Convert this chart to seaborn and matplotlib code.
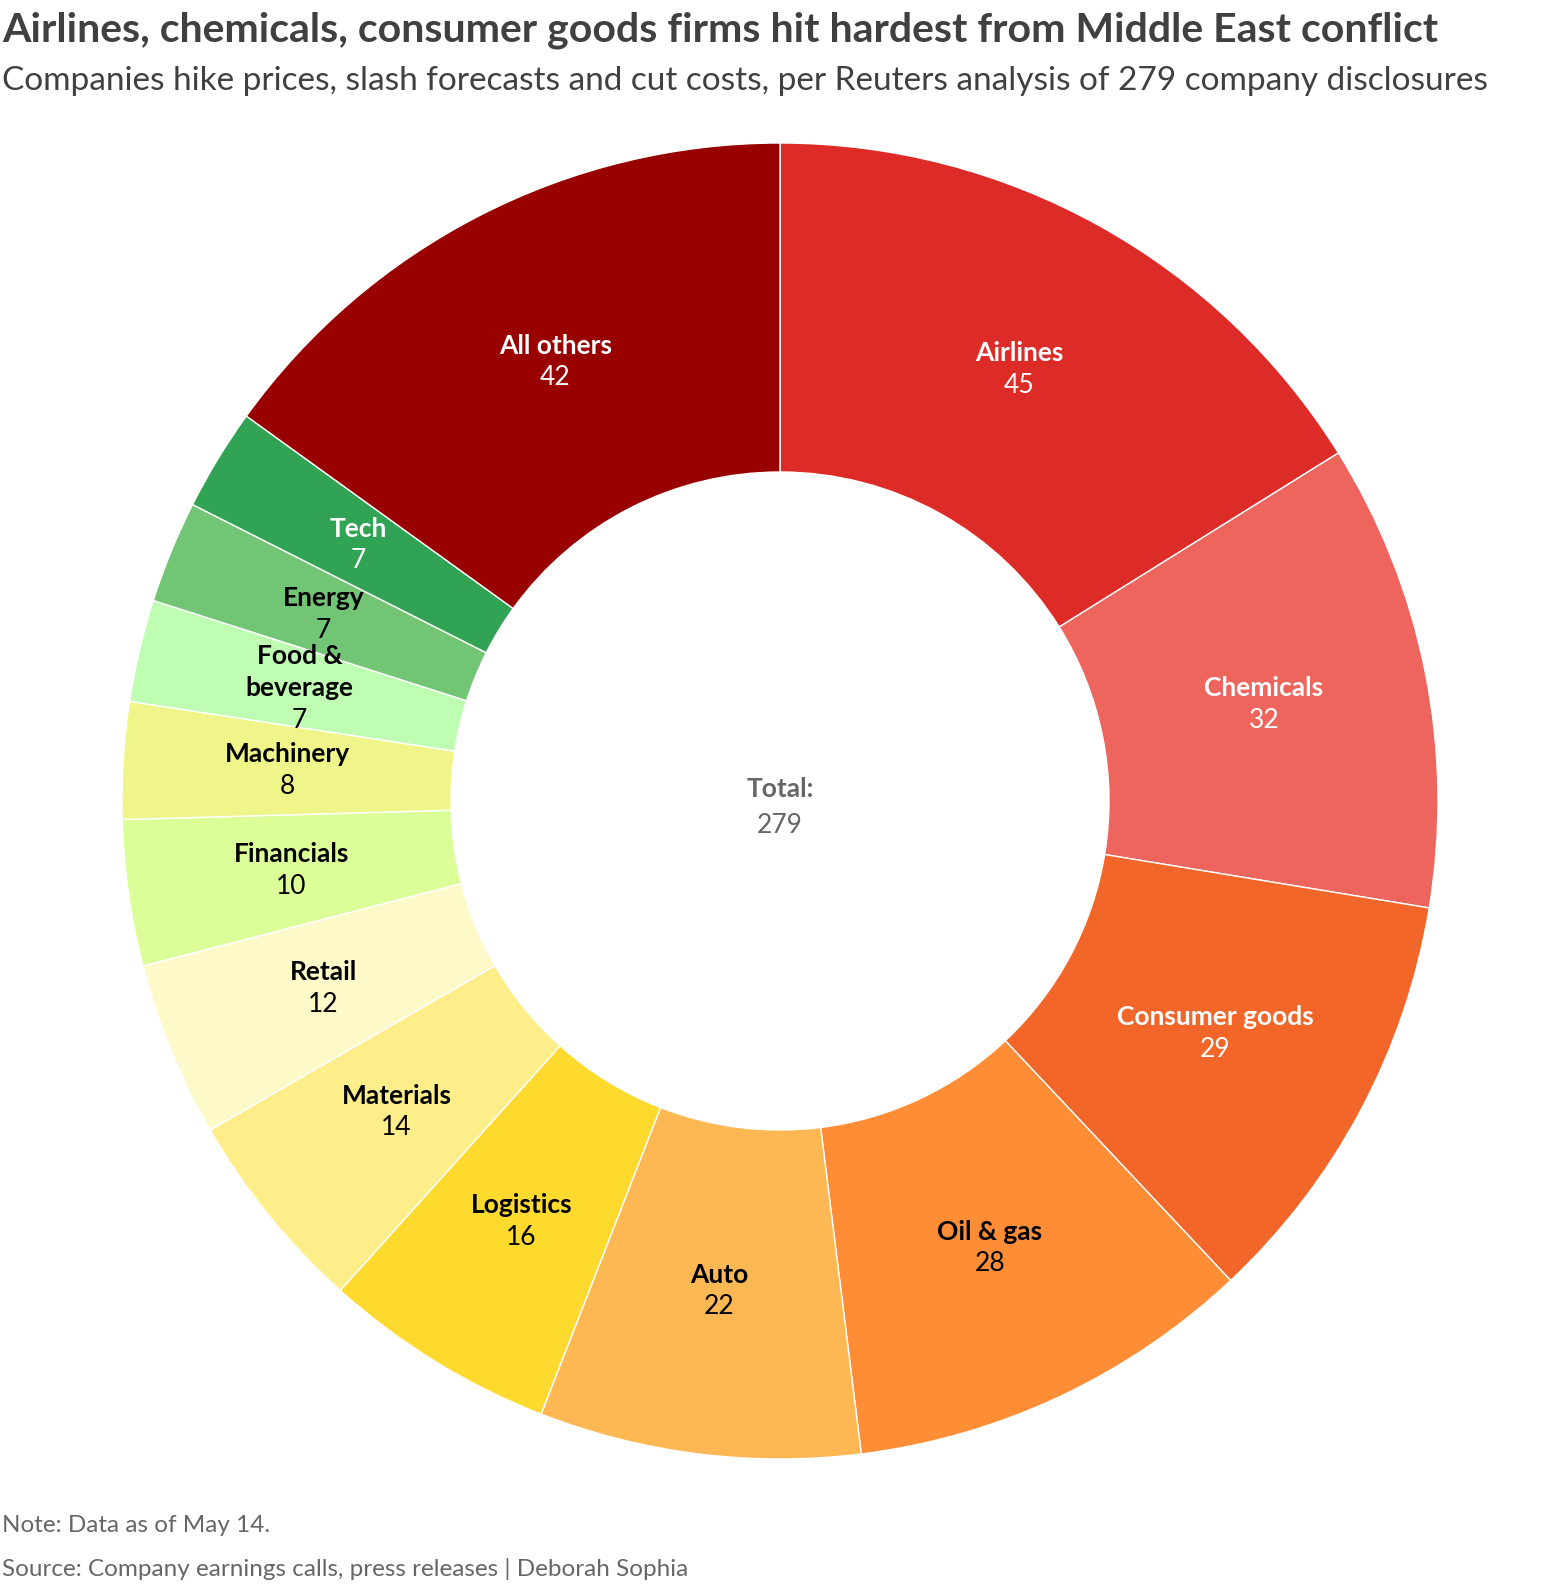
import numpy as np
import matplotlib
matplotlib.use("Agg")
import matplotlib.pyplot as plt
import seaborn as sns

# Data
sectors = ["Airlines", "Chemicals", "Consumer goods", "Oil & gas", "Auto", "Logistics",
           "Materials", "Retail", "Financials", "Machinery", "Food &\nbeverage",
           "Energy", "Tech", "All others"]
counts = [45, 32, 29, 28, 22, 16, 14, 12, 10, 8, 7, 7, 7, 42]
colors = ["#DD2C27", "#EE655D", "#F26729", "#FE8D36", "#FDB853", "#FEDA2F",
          "#FDEE8A", "#FEF9C8", "#DBFE99", "#EFF588", "#BFFDB3",
          "#73C576", "#31A354", "#990000"]
white_text = ["Airlines", "Chemicals", "Consumer goods", "Tech", "All others"]

title = "Airlines, chemicals, consumer goods firms hit hardest from Middle East conflict"
subtitle = "Companies hike prices, slash forecasts and cut costs, per Reuters analysis of 279 company disclosures"
note = "Note: Data as of May 14."
source = "Source: Company earnings calls, press releases | Deborah Sophia"

sns.set_theme(style="white")
plt.rcParams["font.family"] = ["Lato", "DejaVu Sans"]

W, H = 1560, 1586
fig = plt.figure(figsize=(W / 100, H / 100), dpi=100)

# donut geometry in pixels
cx, cy, R = 780, 801, 658
ax = fig.add_axes([(cx - R) / W, (H - cy - R) / H, 2 * R / W, 2 * R / H])

wedges, _ = ax.pie(counts, colors=sns.color_palette(colors), startangle=90,
                   counterclock=False, radius=1,
                   wedgeprops=dict(width=0.5, edgecolor="white", linewidth=1))
ax.set_xlim(-1, 1)
ax.set_ylim(-1, 1)
ax.axis("off")

# label block (name lines + number) centred on the middle of each wedge
step = 0.049
total = sum(counts)
cum = np.cumsum([0] + counts[:-1])
for name, val, start in zip(sectors, counts, cum):
    ang = np.deg2rad(90 - (start + val / 2) / total * 360)
    x, y = 0.75 * np.cos(ang), 0.75 * np.sin(ang)
    col = "white" if name in white_text else "black"
    n = name.count("\n") + 1
    top = y + n * step / 2
    ax.text(x, top - (n - 1) * step / 2, name, ha="center", va="center",
            fontsize=19, fontweight="bold", color=col, linespacing=1.4)
    ax.text(x, top - n * step, str(val), ha="center", va="center",
            fontsize=19, color=col)

ax.text(0, 0.018, "Total:", ha="center", va="center", fontsize=19,
        fontweight="bold", color="#666666")
ax.text(0, -0.037, str(total), ha="center", va="center", fontsize=19,
        color="#666666")

fig.text(2 / W, 1 - 30 / H, title, ha="left", va="center", fontsize=29.5,
         fontweight="bold", color="#404040")
fig.text(2 / W, 1 - 81 / H, subtitle, ha="left", va="center", fontsize=24,
         color="#404040")
fig.text(2 / W, 1 - 1525 / H, note, ha="left", va="center", fontsize=17.5,
         color="#666666")
fig.text(2 / W, 1 - 1569 / H, source, ha="left", va="center", fontsize=17.5,
         color="#666666")

fig.savefig("out.png", dpi=100, facecolor="white")
